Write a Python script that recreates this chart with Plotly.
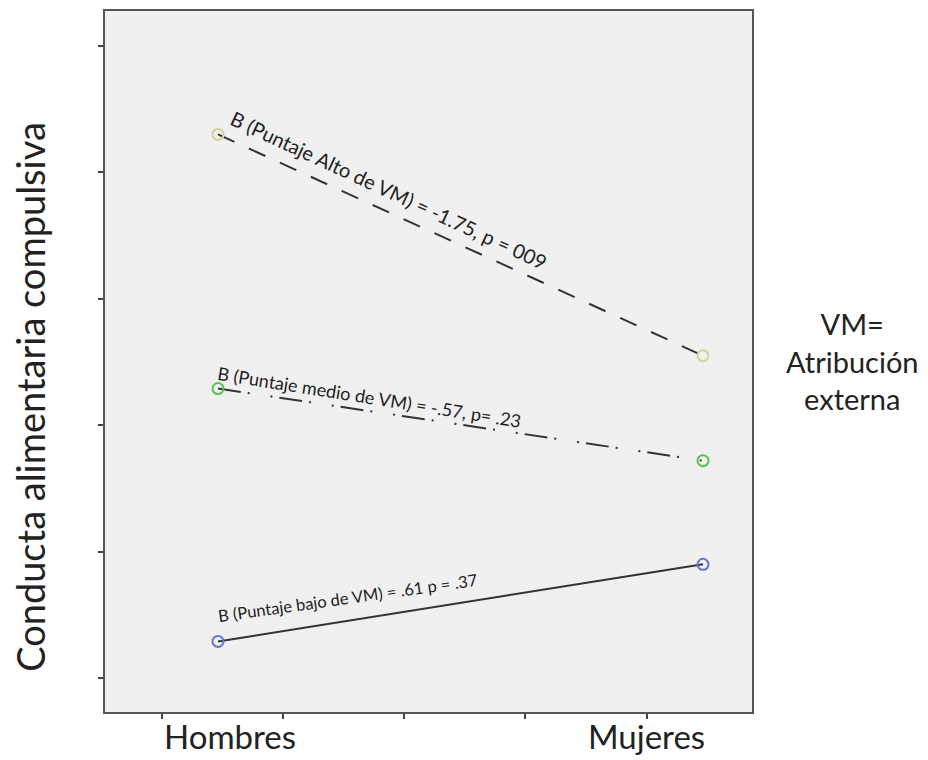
import plotly.graph_objects as go

# Simple slopes of compulsive eating by sex, at three levels of the moderator (VM)
categories = ["Hombres", "Mujeres"]
alto = [14.30, 12.55]    # high VM score
medio = [12.29, 11.72]   # mean VM score
bajo = [10.29, 10.90]    # low VM score
y_ticks = [10, 11, 12, 13, 14, 15]

labels = {
    "alto": "B (Puntaje Alto de VM) = -1.75, p = 009",
    "medio": "B (Puntaje medio de VM) = -.57, p= .23",
    "bajo": "B (Puntaje bajo de VM) = .61 p = .37",
}

FONT = "Lato"
INK = "#222222"
x_pos = list(range(len(categories)))

fig = go.Figure()

series = [
    (alto, "#d6d19c", "18px,16px"),
    (medio, "#55c455", "23px,7px,2px,21px,2px,7px"),
    (bajo, "#6677cc", "solid"),
]
for vals, mcolor, dash in series:
    fig.add_trace(go.Scatter(
        x=x_pos, y=vals, mode="lines+markers",
        line=dict(color="#333333", width=2, dash=dash),
        marker=dict(symbol="circle-open", size=11, color=mcolor,
                    line=dict(width=2, color=mcolor)),
        showlegend=False, hoverinfo="skip",
    ))

# Slope annotations placed along each line
ann_specs = [
    ("alto", 0.353, 13.864, 25, 20),
    ("medio", 0.313, 12.224, 9, 18),
    ("bajo", 0.268, 10.631, -8, 16.5),
]
annotations = []
for key, ax, ay, ang, size in ann_specs:
    annotations.append(dict(
        x=ax, y=ay, xref="x", yref="y", text=labels[key], showarrow=False,
        textangle=ang, xanchor="center", yanchor="middle",
        font=dict(family=FONT, size=size, color=INK),
    ))

# Category labels under the axis
for cat, cx in zip(categories, [0.025, 0.8835]):
    annotations.append(dict(
        x=cx, y=-0.034, xref="x", yref="paper", text=cat, showarrow=False,
        xanchor="center", yanchor="middle",
        font=dict(family=FONT, size=33, color=INK),
    ))

# Y axis title
annotations.append(dict(
    x=-0.116, y=0.4495, xref="paper", yref="paper",
    text="Conducta alimentaria compulsiva", showarrow=False, textangle=-90,
    xanchor="center", yanchor="middle",
    font=dict(family=FONT, size=38, color=INK),
))

# Moderator note on the right
annotations.append(dict(
    x=1.156, y=0.5007, xref="paper", yref="paper",
    text="VM=<br>Atribución<br>externa", showarrow=False, align="center",
    xanchor="center", yanchor="middle",
    font=dict(family=FONT, size=29, color=INK),
))

fig.update_layout(
    width=928, height=760,
    margin=dict(l=105, r=176, t=9, b=48),
    paper_bgcolor="white", plot_bgcolor="#f0f0f0",
    annotations=annotations,
    xaxis=dict(
        range=[-0.23299, 1.10103], showgrid=False, zeroline=False,
        tickvals=[-0.1165, 0.1335, 0.3835, 0.6335, 0.8835],
        showticklabels=False, ticks="outside", ticklen=5, tickwidth=1.5,
        tickcolor="#444444", showline=True, linecolor="#555555",
        linewidth=2, mirror=True,
    ),
    yaxis=dict(
        range=[9.732, 15.276], showgrid=False, zeroline=False,
        tickvals=y_ticks, showticklabels=False, ticks="outside", ticklen=5,
        tickwidth=1.5, tickcolor="#444444", showline=True,
        linecolor="#555555", linewidth=2, mirror=True,
    ),
)

fig.write_html("out.html")
